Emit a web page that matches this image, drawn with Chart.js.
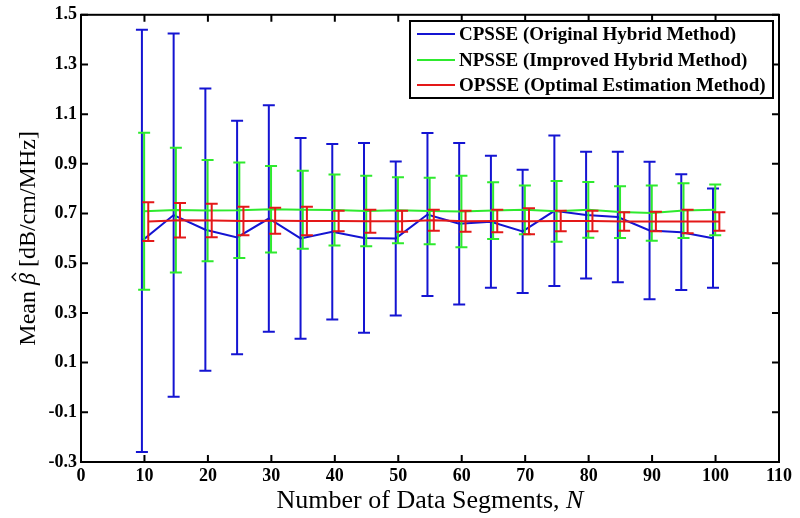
<!DOCTYPE html>
<html>
<head>
<meta charset="utf-8">
<script src="https://cdn.jsdelivr.net/npm/chart.js@4/dist/chart.umd.min.js"></script>
<style>
  html, body { margin: 0; padding: 0; background: #fff; }
  #wrap { width: 800px; height: 518px; }
</style>
</head>
<body>
<div id="wrap"><canvas id="grafico" width="800" height="518"></canvas></div>
<script>
// N values
const segmentos = [10, 15, 20, 25, 30, 35, 40, 45, 50, 55, 60, 65, 70, 75, 80, 85, 90, 95, 100]

// CPSSE
const cpsseMedia = [0.59, 0.694, 0.635, 0.604, 0.68, 0.60, 0.627, 0.602, 0.60, 0.696, 0.659, 0.667, 0.628, 0.711, 0.694, 0.686, 0.632, 0.625, 0.601]
const cpsseErro = [0.85, 0.731, 0.568, 0.47, 0.456, 0.404, 0.353, 0.382, 0.31, 0.328, 0.325, 0.266, 0.248, 0.303, 0.255, 0.263, 0.277, 0.233, 0.2]

// NPSSE
const npsseMedia = [0.709, 0.714, 0.712, 0.713, 0.717, 0.715, 0.714, 0.71, 0.713, 0.71, 0.708, 0.712, 0.715, 0.709, 0.715, 0.706, 0.702, 0.712, 0.715]
const npsseErro = [0.316, 0.251, 0.204, 0.192, 0.174, 0.157, 0.143, 0.142, 0.133, 0.134, 0.144, 0.114, 0.098, 0.122, 0.112, 0.104, 0.111, 0.11, 0.102]

// OPSSE
const opsseMedia = [0.668, 0.673, 0.672, 0.67, 0.671, 0.67, 0.67, 0.669, 0.669, 0.673, 0.669, 0.67, 0.669, 0.67, 0.67, 0.668, 0.668, 0.668, 0.668]
const opsseErro = [0.078, 0.069, 0.067, 0.057, 0.052, 0.057, 0.041, 0.046, 0.042, 0.042, 0.042, 0.045, 0.052, 0.041, 0.041, 0.037, 0.039, 0.047, 0.037]

const nomes = ['CPSSE (Original Hybrid Method)', 'NPSSE (Improved Hybrid Method)', 'OPSSE (Optimal Estimation Method)']
const yTicks = [-0.3, -0.1, 0.1, 0.3, 0.5, 0.7, 0.9, 1.1, 1.3, 1.5]
const xTicks = [0, 10, 20, 30, 40, 50, 60, 70, 80, 90, 100, 110]

const serif = '"Liberation Serif", "Times New Roman", serif'

function serie(label, media, erro, cor, desloc, ordem) {
    return {
        label: label,
        data: segmentos.map((n, i) => ({ x: n + desloc, y: media[i] })),
        erro: erro,
        borderColor: cor,
        borderWidth: 2,
        pointRadius: 0,
        tension: 0,
        fill: false,
        order: ordem
    }
}

// error bars, drawn right after each line
const barrasErro = {
    id: 'barrasErro',
    afterDatasetDraw(chart, args) {
        const ds = chart.data.datasets[args.index]
        const ctx = chart.ctx
        const xs = chart.scales.x, ys = chart.scales.y
        ctx.save()
        ctx.strokeStyle = ds.borderColor
        ctx.lineWidth = 2
        ds.data.forEach((p, i) => {
            const x = xs.getPixelForValue(p.x)
            const y1 = ys.getPixelForValue(p.y + ds.erro[i])
            const y2 = ys.getPixelForValue(p.y - ds.erro[i])
            ctx.beginPath()
            ctx.moveTo(x, y1); ctx.lineTo(x, y2)
            ctx.moveTo(x - 6, y1); ctx.lineTo(x + 6, y1)
            ctx.moveTo(x - 6, y2); ctx.lineTo(x + 6, y2)
            ctx.stroke()
        })
        ctx.restore()
    }
}

// draw pieces of text [texto, italico] starting at x
function pedacos(ctx, partes, x, y, tam) {
    let pos = x
    const posicoes = []
    partes.forEach(p => {
        ctx.font = (p[1] ? 'italic ' : '') + tam + 'px ' + serif
        ctx.fillText(p[0], pos, y)
        const w = ctx.measureText(p[0]).width
        posicoes.push([pos, w])
        pos += w
    })
    return posicoes
}

function largura(ctx, partes, tam) {
    let w = 0
    partes.forEach(p => {
        ctx.font = (p[1] ? 'italic ' : '') + tam + 'px ' + serif
        w += ctx.measureText(p[0]).width
    })
    return w
}

// matlab style box, inward ticks, titles and legend
const moldura = {
    id: 'moldura',
    afterDraw(chart) {
        const ctx = chart.ctx
        const a = chart.chartArea
        const xs = chart.scales.x, ys = chart.scales.y
        ctx.save()
        ctx.strokeStyle = '#000'
        ctx.lineWidth = 2
        ctx.strokeRect(a.left, a.top, a.right - a.left, a.bottom - a.top)
        ctx.beginPath()
        xTicks.forEach(v => {
            const x = xs.getPixelForValue(v)
            ctx.moveTo(x, a.bottom); ctx.lineTo(x, a.bottom - 7)
            ctx.moveTo(x, a.top); ctx.lineTo(x, a.top + 7)
        })
        yTicks.forEach(v => {
            const y = ys.getPixelForValue(v)
            ctx.moveTo(a.left, y); ctx.lineTo(a.left + 7, y)
            ctx.moveTo(a.right, y); ctx.lineTo(a.right - 7, y)
        })
        ctx.stroke()

        // axis titles
        ctx.fillStyle = '#000'
        ctx.textBaseline = 'alphabetic'
        ctx.textAlign = 'left'
        const tx = [['Number of Data Segments, ', false], ['N', true]]
        const wx = largura(ctx, tx, 26)
        pedacos(ctx, tx, (a.left + a.right) / 2 - wx / 2, 508, 26)

        const ty = [['Mean ', false], ['\u03B2', true], [' [dB/cm/MHz]', false]]
        ctx.save()
        ctx.translate(35, (a.top + a.bottom) / 2)
        ctx.rotate(-Math.PI / 2)
        const wy = largura(ctx, ty, 24)
        const pos = pedacos(ctx, ty, -wy / 2, 0, 24)
        const bx = pos[1][0] + pos[1][1] / 2 + 2
        ctx.lineWidth = 1.3
        ctx.beginPath()
        ctx.moveTo(bx - 4, -19); ctx.lineTo(bx, -23); ctx.lineTo(bx + 4, -19)
        ctx.stroke()
        ctx.restore()

        // legend
        const lx = 410, ly = 21, lw = 363, lh = 77
        ctx.fillStyle = '#fff'
        ctx.fillRect(lx, ly, lw, lh)
        ctx.lineWidth = 2
        ctx.strokeStyle = '#000'
        ctx.strokeRect(lx, ly, lw, lh)
        const linhas = [34, 60, 85]
        ctx.font = 'bold 19px ' + serif
        ctx.textBaseline = 'middle'
        chart.data.datasets.forEach((ds, i) => {
            ctx.strokeStyle = ds.borderColor
            ctx.beginPath()
            ctx.moveTo(417, linhas[i]); ctx.lineTo(455, linhas[i])
            ctx.stroke()
            ctx.fillStyle = '#000'
            ctx.fillText(ds.label, 459, linhas[i] + 1)
        })
        ctx.restore()
    }
}

new Chart(document.getElementById('grafico'), {
    type: 'line',
    data: {
        datasets: [
            serie(nomes[0], cpsseMedia, cpsseErro, '#1414d2', -0.4, 3),
            serie(nomes[1], npsseMedia, npsseErro, '#2eea2e', -0.05, 2),
            serie(nomes[2], opsseMedia, opsseErro, '#e41818', 0.6, 1)
        ]
    },
    options: {
        responsive: false,
        animation: false,
        layout: { padding: { top: 13, right: 21, left: 0, bottom: 0 } },
        plugins: {
            legend: { display: false },
            tooltip: { enabled: false }
        },
        scales: {
            x: {
                type: 'linear',
                min: 0,
                max: 110,
                afterBuildTicks: s => { s.ticks = xTicks.map(v => ({ value: v })) },
                afterFit: s => { s.height = 56 },
                grid: { display: false, drawTicks: false },
                border: { display: false },
                ticks: {
                    color: '#000',
                    padding: 4,
                    maxRotation: 0,
                    font: { family: serif, size: 18, weight: 'bold' }
                }
            },
            y: {
                min: -0.3,
                max: 1.5,
                afterBuildTicks: s => { s.ticks = yTicks.map(v => ({ value: v })) },
                afterFit: s => { s.width = 81 },
                grid: { display: false, drawTicks: false },
                border: { display: false },
                ticks: {
                    color: '#000',
                    padding: 4,
                    font: { family: serif, size: 18, weight: 'bold' },
                    callback: v => v.toFixed(1)
                }
            }
        }
    },
    plugins: [barrasErro, moldura]
})
</script>
</body>
</html>
